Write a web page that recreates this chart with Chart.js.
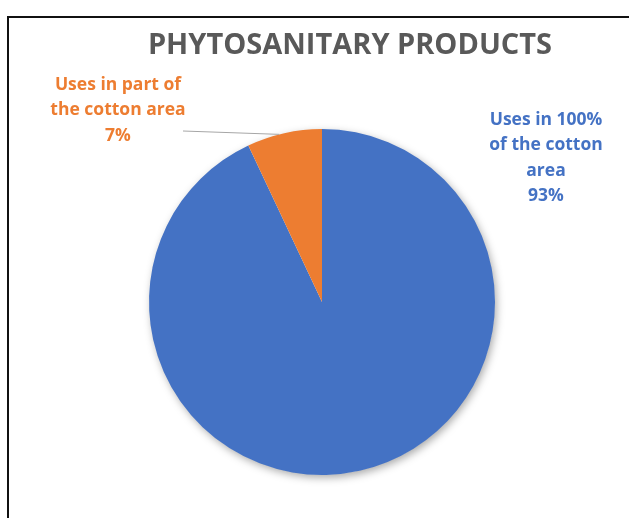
<!DOCTYPE html>
<html>
<head>
<meta charset="utf-8">
<script src="https://cdn.jsdelivr.net/npm/chart.js@4.4.1/dist/chart.umd.min.js"></script>
<style>
  html, body { margin:0; padding:0; background:#fff; }
  #wrap { position:relative; width:629px; height:518px; overflow:hidden; }
  #frame { position:absolute; left:7px; top:16px; width:640px; height:520px;
           border-left:2px solid #111; border-top:2px solid #111; }
  #pie { position:absolute; left:0; top:0; }
</style>
</head>
<body>
<div id="wrap">
  <div id="frame"></div>
  <canvas id="pie" width="629" height="518"></canvas>
</div>
<script>
// ==== DATA ====
const TITLE = "PHYTOSANITARY PRODUCTS";
const categories = ["Uses in 100% of the cotton area", "Uses in part of the cotton area"];
const values = [93, 7];
const colors = ["#4472C4", "#ED7D31"];
// label lines as shown on the chart
const labelLines = [
  ["Uses in 100%", "of the cotton", "area"],
  ["Uses in part of", "the cotton area"]
];

const FONT = '"Open Sans", "DejaVu Sans", sans-serif';

// circle shadow under the pie (Excel style)
const pieShadow = {
  id: 'pieShadow',
  beforeDatasetsDraw(chart) {
    const arc = chart.getDatasetMeta(0).data[0];
    if (!arc) return;
    const ctx = chart.ctx;
    ctx.save();
    ctx.shadowColor = 'rgba(0,0,0,0.35)';
    ctx.shadowBlur = 9;
    ctx.shadowOffsetX = 2;
    ctx.shadowOffsetY = 3;
    ctx.fillStyle = '#ffffff';
    ctx.beginPath();
    ctx.arc(arc.x, arc.y, arc.outerRadius - 0.5, 0, Math.PI * 2);
    ctx.fill();
    ctx.restore();
  }
};

// title + data labels + leader line
const pieLabels = {
  id: 'pieLabels',
  afterDatasetsDraw(chart) {
    const ctx = chart.ctx;
    const meta = chart.getDatasetMeta(0);
    const total = values.reduce((a, b) => a + b, 0);
    const cx = meta.data[0].x, cy = meta.data[0].y, r = meta.data[0].outerRadius;

    ctx.save();
    // title
    ctx.fillStyle = '#595959';
    ctx.font = 'bold 29px ' + FONT;
    ctx.textAlign = 'center';
    ctx.textBaseline = 'middle';
    ctx.fillText(TITLE, 350, 46);

    // label positions relative to the pie centre
    const pos = [
      { x: cx + 224, y: cy - 182 },
      { x: cx - 204, y: cy - 217 }
    ];
    ctx.font = 'bold 17.5px ' + FONT;
    meta.data.forEach((arc, i) => {
      const lines = labelLines[i].concat([Math.round(values[i] / total * 100) + '%']);
      ctx.fillStyle = colors[i];
      lines.forEach((ln, k) => ctx.fillText(ln, pos[i].x, pos[i].y + k * 25.5));
    });

    // leader line for the small slice
    const small = meta.data[1];
    const mid = (small.startAngle + small.endAngle) / 2 - 0.03;
    ctx.strokeStyle = '#A6A6A6';
    ctx.lineWidth = 1;
    ctx.beginPath();
    ctx.moveTo(cx - 139, cy - 171);
    ctx.lineTo(cx + Math.cos(mid) * r, cy + Math.sin(mid) * r);
    ctx.stroke();
    ctx.restore();
  }
};

new Chart(document.getElementById('pie'), {
  type: 'pie',
  data: {
    labels: categories,
    datasets: [{ data: values, backgroundColor: colors, borderWidth: 0 }]
  },
  options: {
    responsive: false,
    animation: false,
    layout: { padding: { top: 129, bottom: 43, left: 149, right: 134 } },
    plugins: { legend: { display: false }, tooltip: { enabled: false } }
  },
  plugins: [pieShadow, pieLabels]
});
</script>
</body>
</html>
